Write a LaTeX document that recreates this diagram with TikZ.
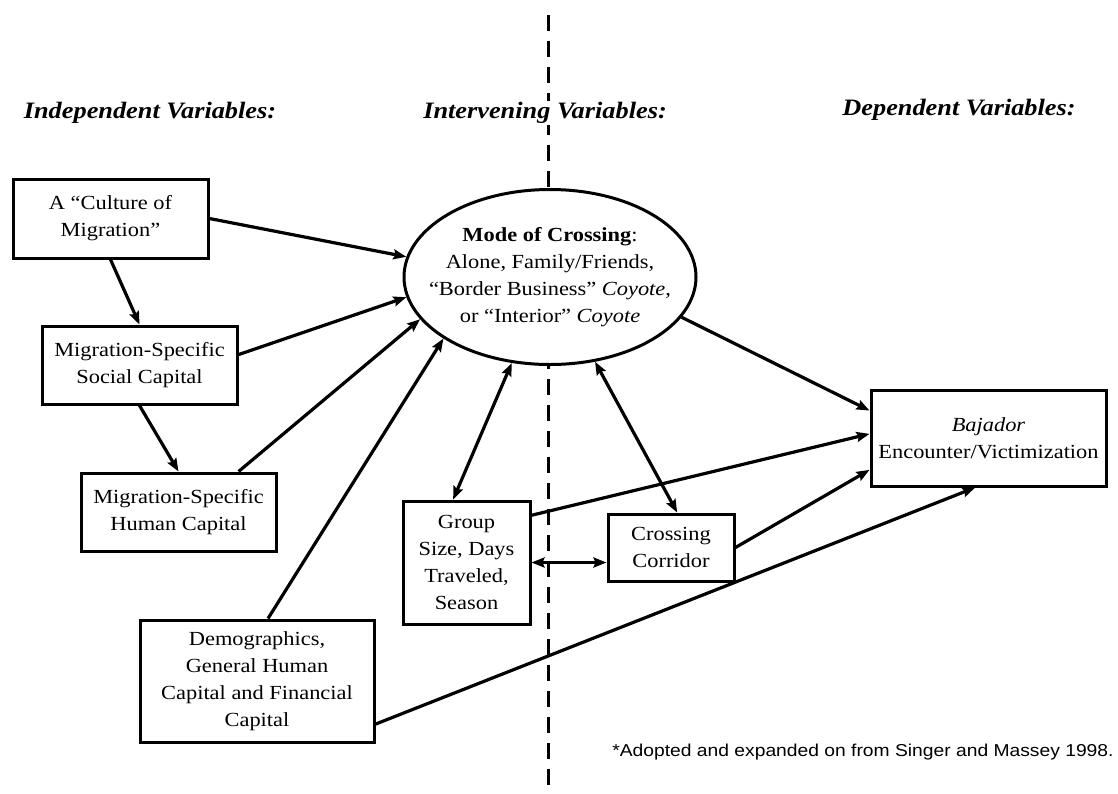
\documentclass[tikz,border=0pt]{standalone}
\usepackage{fontspec}
\setmainfont[FakeStretch=1.12]{Liberation Serif}
\setsansfont[FakeStretch=1.12]{Liberation Sans}
\usetikzlibrary{arrows.meta,shapes.geometric}

\begin{document}
\begin{tikzpicture}[x=1pt,y=-1pt,
    varbox/.style={draw,line width=3pt,fill=white,align=center,inner sep=2pt,
      font=\fontsize{20}{27}\selectfont},
    modeoval/.style={ellipse,draw,line width=3pt,fill=white,inner sep=0pt},
    heading/.style={font=\fontsize{23.5}{28}\selectfont\bfseries\itshape},
    link/.style={line width=3.2pt,-{Stealth[length=13pt,width=10pt,inset=2pt]}},
    twoway/.style={line width=3.2pt,{Stealth[length=13pt,width=10pt,inset=2pt]}-{Stealth[length=13pt,width=10pt,inset=2pt]}},
    border/.style={line width=3pt,dash pattern=on 16pt off 10pt}]
  \useasboundingbox (0,0) rectangle (1118,793);
  % the border
  \draw[border] (548,15) coordinate (top) -- (548,790) coordinate (bot);
  % column titles
  \node[heading] (indep) at (150,113) {Independent Variables:};
  \node[heading,fill=white,inner sep=1pt] (interv) at (545,113) {Intervening Variables:};
  \node[heading] (dep) at (959,110) {Dependent Variables:};
  % variables
  \node[varbox,minimum width=195pt,minimum height=79pt] (culture) at (110.5,218.5)
    {A “Culture of\\ Migration”};
  \node[varbox,minimum width=195pt,minimum height=78pt] (social) at (139.5,365)
    {Migration-Specific\\ Social Capital};
  \node[varbox,minimum width=195pt,minimum height=78pt] (human) at (178.5,512)
    {Migration-Specific\\ Human Capital};
  \node[varbox,minimum width=234pt,minimum height=122pt] (demo) at (257,681)
    {Demographics,\\ General Human\\ Capital and Financial\\ Capital};
  \node[modeoval,minimum width=292pt,minimum height=175pt] (mode) at (550,277) {};
  \node[align=center,font=\fontsize{20}{27}\selectfont] (modetext) at (mode.center)
    {\textbf{Mode of Crossing}:\\ Alone, Family/Friends,\\ “Border Business” \textit{Coyote},\\ or “Interior” \textit{Coyote}};
  \node[varbox,minimum width=127pt,minimum height=123pt] (group) at (466.5,562.5)
    {Group\\ Size, Days\\ Traveled,\\ Season};
  \node[varbox,minimum width=126pt,minimum height=67pt] (crossing) at (671,547.5)
    {Crossing\\ Corridor};
  \node[varbox,minimum width=235pt,minimum height=96pt] (bajador) at (988.5,438)
    {\textit{Bajador}\\ Encounter/Victimization};
  \node[font=\sffamily\fontsize{17.2}{20}\selectfont] (source) at (863,752)
    {*Adopted and expanded on from Singer and Massey 1998.};
  % paths
  \begin{scope}[link]
    \draw (culture.east) to (mode.172);
    \draw (culture.south) to (social.north);
    \draw (social.6) to (mode.188);
    \draw (social.south) to (human.north);
    \draw (human.34) to (mode.198);
    \draw (demo.80) to (mode.210);
    \draw (mode.343) to (bajador.167);
    \draw (group.36) to (bajador.178);
    \draw (crossing.east) to (bajador.195);
    \draw (demo.-20) to (bajador.255);
  \end{scope}
  \begin{scope}[twoway]
    \draw (mode.246) to (group.102);
    \draw (mode.298) to (crossing.80);
    \draw (group.east) to (group.east -| crossing.west);
  \end{scope}
\end{tikzpicture}
\end{document}
